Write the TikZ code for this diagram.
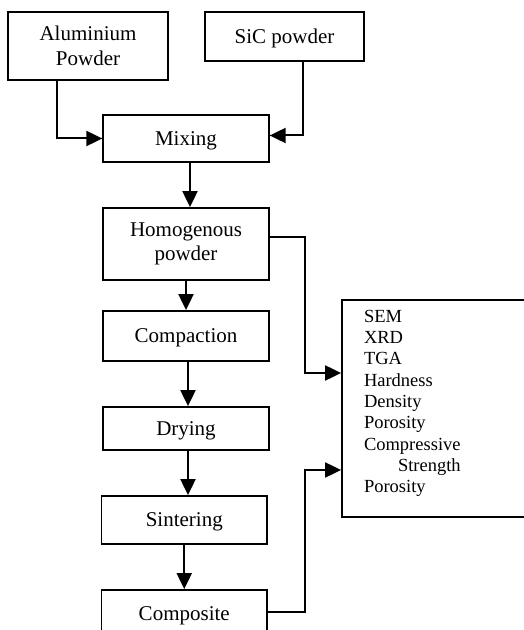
\documentclass[tikz,border=0pt]{standalone}
\usepackage{fontspec}
\setmainfont{Liberation Serif}
\usetikzlibrary{arrows.meta,positioning}

\begin{document}
\begin{tikzpicture}[x=1pt, y=1pt, >={Triangle[length=16pt,width=15pt]}, line width=2pt, font=\fontsize{21}{24.5}\selectfont]
        \tikzset{
          box/.style ={draw, line width=1.8pt, rectangle, minimum width=165.5pt, align=center, inner sep=0pt},
          one/.style ={text height=14pt, text depth=0pt},
          lst/.style ={font=\fontsize{18.5}{21.3}\selectfont, align=left, inner sep=0pt}
        }
        \useasboundingbox (0,0) rectangle (523,630);
        %% --- starting powders ---
        \node[box, minimum width=159.5pt, minimum height=68pt] (al)  at (88,584)    {Aluminium\\Powder};
        \node[box, one, minimum width=159pt, minimum height=49pt] (sic) at (284.5,593.5) {SiC powder};
        %% --- process chain ---
        \node[box, one, minimum height=47pt] (mix) at (186,491.5) {Mixing};
        \node[box, minimum height=72pt]      (hom) at (186,386)   {Homogenous\\powder};
        \node[box, one, minimum height=50pt] (cmp) at (186,294)   {Compaction};
        \node[box, one, minimum height=43pt] (dry) at (186,201.5) {Drying};
        \node[box, one, minimum height=48pt] (sin) at (184.25,110) {Sintering};
        \node[box, one, minimum height=47pt] (cps) at (184.25,16.5) {Composite};
        %% --- tests ---
        \node[box, minimum width=203pt, minimum height=217pt] (tst) at (443.5,221.5) {};
        \node[lst, anchor=north west] (tl) at (363,321)
          {SEM\\XRD\\TGA\\Hardness\\Density\\Porosity\\Compressive\\\hspace*{34pt}Strength\\Porosity};
        \draw[->] ([xshift=-31pt]al.south) |- (mix.west);
        \draw[->] ([xshift=18.5pt]sic.south) |- ([yshift=3pt]mix.east);
        \draw[->] ([xshift=4pt]mix.south) -- ([xshift=4pt]hom.north);
        \draw[->] (hom) -- (hom |- cmp.north);
        \draw[->] ([xshift=2pt]cmp.south) -- ([xshift=2pt]cmp.south |- dry.north);
        \draw[->] ([xshift=2pt]dry.south) -- ([xshift=2pt]dry.south |- sin.north);
        \draw[->] (sin) -- (cps);
        \draw[->] ([yshift=7pt]hom.east) --++(35,0) |- ([yshift=35.5pt]tst.west);
        \draw[->] ([yshift=1.5pt]cps.east) --++(37,0) |- ([yshift=-61.5pt]tst.west);
    \end{tikzpicture}
\end{document}
